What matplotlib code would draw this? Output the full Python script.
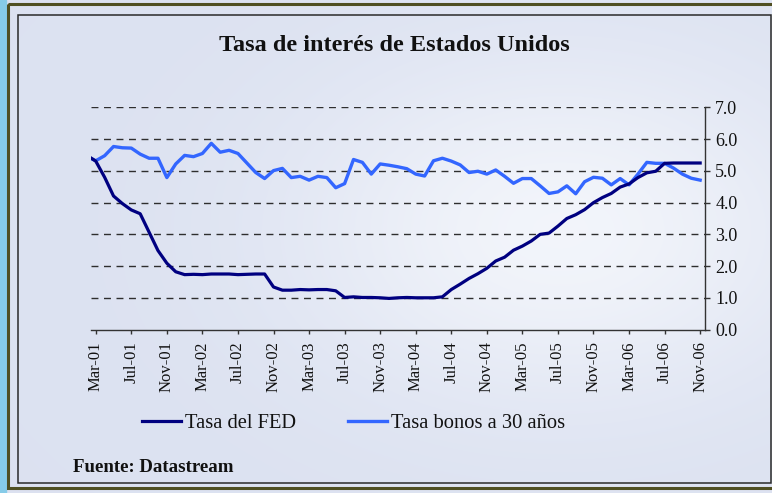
import numpy as np
import matplotlib
matplotlib.use('Agg')
import matplotlib.pyplot as plt
from matplotlib.patches import Rectangle

plt.rcParams['font.family'] = ['Liberation Serif', 'DejaVu Serif']

# monthly data, Feb-01 .. Nov-06 (plotted at mid-month)
years = ['01', '02', '03', '04', '05', '06']
mnames = ['Jan', 'Feb', 'Mar', 'Apr', 'May', 'Jun', 'Jul', 'Aug', 'Sep', 'Oct', 'Nov', 'Dec']
months = [m + '-' + y for y in years for m in mnames][1:-1]

fed = [5.49, 5.31, 4.80, 4.21, 3.97, 3.77, 3.65, 3.07, 2.49, 2.09, 1.82,
       1.73, 1.74, 1.73, 1.75, 1.75, 1.75, 1.73, 1.74, 1.75, 1.75, 1.34, 1.24,
       1.24, 1.26, 1.25, 1.26, 1.26, 1.22, 1.01, 1.03, 1.01, 1.01, 1.00, 0.98,
       1.00, 1.01, 1.00, 1.00, 1.00, 1.03, 1.26, 1.43, 1.61, 1.76, 1.93, 2.16,
       2.28, 2.50, 2.63, 2.79, 3.00, 3.04, 3.26, 3.50, 3.62, 3.78, 4.00, 4.16,
       4.29, 4.49, 4.59, 4.79, 4.94, 4.99, 5.24, 5.25, 5.25, 5.25, 5.25]

bonos = [5.46, 5.32, 5.48, 5.77, 5.73, 5.72, 5.53, 5.40, 5.40, 4.79, 5.22,
         5.49, 5.45, 5.55, 5.87, 5.59, 5.65, 5.55, 5.25, 4.95, 4.76, 5.01, 5.08,
         4.79, 4.83, 4.71, 4.83, 4.79, 4.47, 4.60, 5.36, 5.27, 4.90, 5.22, 5.18,
         5.13, 5.07, 4.90, 4.84, 5.32, 5.40, 5.31, 5.19, 4.95, 4.99, 4.90, 5.03,
         4.83, 4.61, 4.76, 4.76, 4.53, 4.29, 4.34, 4.53, 4.28, 4.66, 4.80, 4.77,
         4.56, 4.76, 4.56, 4.90, 5.27, 5.24, 5.24, 5.09, 4.90, 4.77, 4.71]

tick_labels = ['Mar-01', 'Jul-01', 'Nov-01', 'Mar-02', 'Jul-02', 'Nov-02',
               'Mar-03', 'Jul-03', 'Nov-03', 'Mar-04', 'Jul-04', 'Nov-04',
               'Mar-05', 'Jul-05', 'Nov-05', 'Mar-06', 'Jul-06', 'Nov-06']
y_ticks = [0, 1, 2, 3, 4, 5, 6, 7]

W, H = 772, 493
fig = plt.figure(figsize=(W / 100, H / 100), dpi=100)

# background with soft light patch + frame
bg = fig.add_axes([0, 0, 1, 1])
bg.set_xlim(0, W)
bg.set_ylim(H, 0)
bg.axis('off')
xx, yy = np.meshgrid(np.arange(W), np.arange(H))
t = np.exp(-((xx - 560) / 260.0) ** 2 - ((yy - 230) / 170.0) ** 2)
base = np.array([0.863, 0.886, 0.945])
light = np.array([0.950, 0.960, 0.983])
img = base[None, None, :] * (1 - t[..., None]) + light[None, None, :] * t[..., None]
bg.imshow(img, extent=(0, W, H, 0), aspect='auto', zorder=0)
bg.add_patch(Rectangle((0, 0), 6, H, color='#86cbe8', zorder=1))
bg.add_patch(Rectangle((7.5, 3.5), W, 484.5, fill=False, ec='#4f4f22', lw=2.2, zorder=2))
bg.add_patch(Rectangle((18, 15), 753, 468, fill=False, ec='#2a2a2a', lw=1.1, zorder=2))

ax = fig.add_axes([91.3 / W, 1 - 329.5 / H, (704.6 - 91.3) / W, (329.5 - 107.5) / H])
ax.patch.set_alpha(0)

x = np.arange(len(months)) - 0.5
for v in y_ticks[1:]:
    ax.axhline(v, color='#2e2e2e', lw=1.0, ls=(0, (5.0, 4.0)), zorder=1)
l1, = ax.plot(x, fed, color='#000080', lw=2.3, zorder=3, solid_joinstyle='round')
l2, = ax.plot(x, bonos, color='#3366ff', lw=2.4, zorder=2, solid_joinstyle='round')

ax.set_xlim(0, 69)
ax.set_ylim(0, 7)
ax.set_xticks([months.index(m) - 0.5 for m in tick_labels])
ax.set_xticklabels(tick_labels, rotation=90, fontsize=12)
ax.set_yticks(y_ticks)
ax.set_yticklabels(['%.1f' % v for v in y_ticks], fontsize=13)
ax.yaxis.tick_right()
ax.spines['left'].set_visible(False)
ax.spines['top'].set_visible(False)
for s in ['right', 'bottom']:
    ax.spines[s].set_color('#333333')
    ax.spines[s].set_linewidth(1.0)
ax.tick_params(axis='x', direction='out', length=3, width=1, color='#333333', pad=5.5, labelcolor='#111111')
ax.tick_params(axis='y', direction='out', length=3.6, width=1, color='#333333', pad=4, labelcolor='#111111')

fig.text(394.5 / W, 1 - 50.7 / H, 'Tasa de interés de Estados Unidos', ha='center', va='baseline',
         fontsize=17.5, fontweight='bold', color='#111111')

fig.legend(handles=[l1, l2], labels=['Tasa del FED', 'Tasa bonos a 30 años'],
           loc='center left', bbox_to_anchor=(142 / W, 1 - 423.3 / H), ncol=2, frameon=False,
           fontsize=14.8, handlelength=1.9, handletextpad=0.2, columnspacing=2.5,
           borderpad=0, borderaxespad=0, labelcolor='#111111')

fig.text(73 / W, 1 - 471.7 / H, 'Fuente: Datastream', ha='left', va='baseline',
         fontsize=13.6, fontweight='bold', color='#111111')

fig.savefig('out.png', dpi=100)
